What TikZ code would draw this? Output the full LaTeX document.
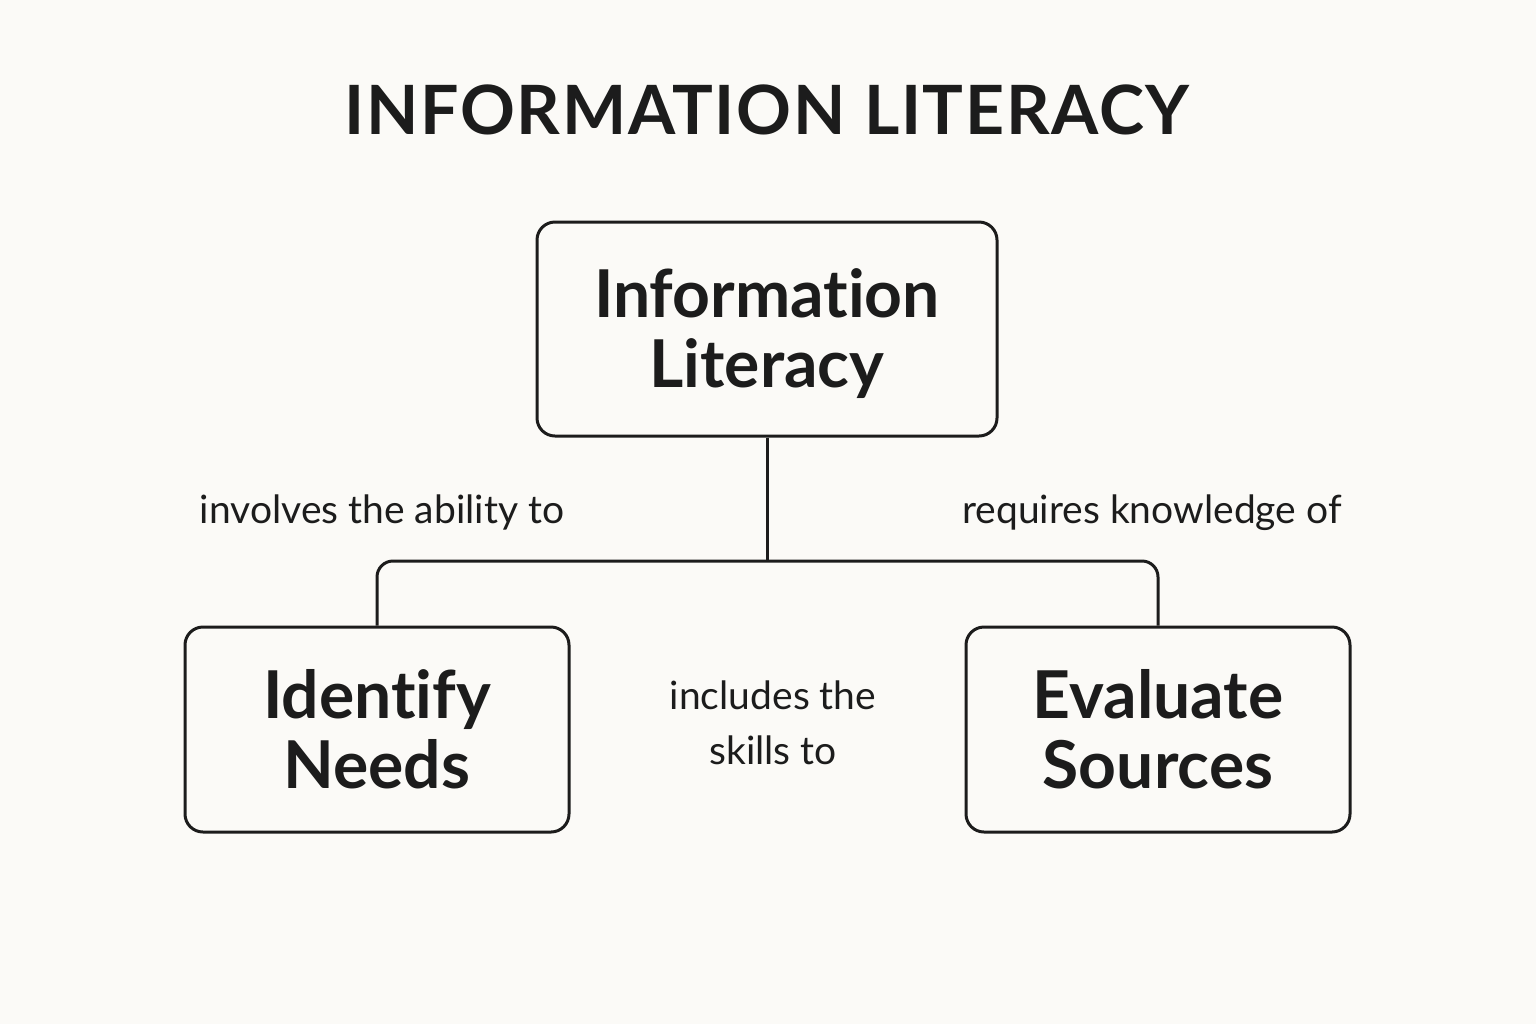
\documentclass[tikz,border=0pt]{standalone}
\usepackage{fontspec}
\setmainfont{Lato}[RawFeature=-liga]
\newfontfamily\titlefont{Lato}[LetterSpace=2.5,RawFeature=-liga]
\definecolor{bg}{HTML}{FBFAF7}
\definecolor{ink}{HTML}{1C1C1C}
\begin{document}
\begin{tikzpicture}[x=0.5pt,y=-0.5pt,
  box/.style={draw=ink,line width=1.5pt,rounded corners=9pt,align=center,text=ink,
    font=\bfseries\fontsize{33}{35}\selectfont,inner sep=0pt,text height=58.5pt,text depth=0pt},
  conn/.style={draw=ink,line width=1.5pt},
  lbl/.style={text=ink,font=\fontsize{19.5}{27.5}\selectfont,align=center,inner sep=0pt}]
\fill[bg] (0,0) rectangle (1536,1024);
\useasboundingbox (0,0) rectangle (1536,1024);
\node[anchor=base,text=ink,font=\titlefont\bfseries\fontsize{34}{40}\selectfont] (title) at (767,134) {INFORMATION LITERACY};
\node[box,minimum width=230pt,minimum height=107pt] (top) at (767,329) {Information\\Literacy};
\node[box,minimum width=192pt,minimum height=102.5pt] (left) at (377,729.5) {Identify\\Needs};
\node[box,minimum width=192pt,minimum height=102.5pt] (right) at (1158,729.5) {Evaluate\\Sources};
\coordinate (bar) at (767,561);
\draw[conn] (top.south) -- (bar);
\draw[conn,rounded corners=8pt] (left.north) -- (left.north |- bar) -- (right.north |- bar) -- (right.north);
\node[lbl,anchor=base] (l1) at (382,523) {involves the ability to};
\node[lbl,anchor=base] (l2) at (1152,523) {requires knowledge of};
\node[lbl,anchor=base] (l3) at (773,764) {includes the\\skills to};
\end{tikzpicture}
\end{document}
